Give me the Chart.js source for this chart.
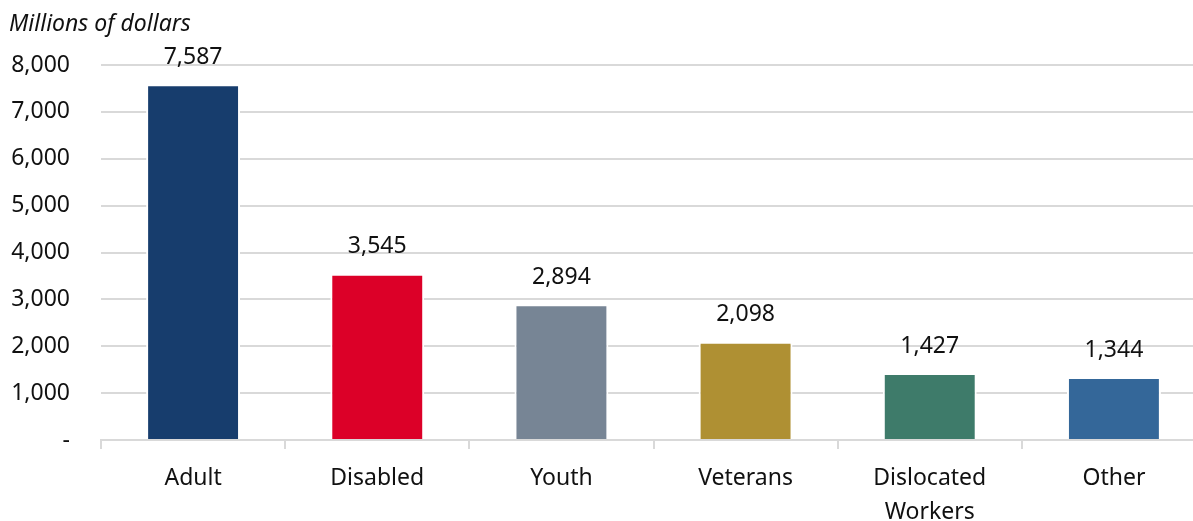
<!DOCTYPE html>
<html>
<head>
<meta charset="utf-8">
<script src="https://cdn.jsdelivr.net/npm/chart.js@4/dist/chart.umd.min.js"></script>
<style>
  html, body { margin: 0; padding: 0; background: #fff; overflow: hidden; }
  #wrap { width: 1206px; height: 521px; position: relative; }
</style>
</head>
<body>
<div id="wrap"><canvas id="chart"></canvas></div>
<script>
const categories = ['Adult', 'Disabled', 'Youth', 'Veterans', ['Dislocated', 'Workers'], 'Other'];
const amounts = [7587, 3545, 2894, 2098, 1427, 1344];
const barColors = ['#173d6d', '#dc0028', '#778595', '#af9033', '#3e7b6a', '#346799'];
const yTicks = [0, 1000, 2000, 3000, 4000, 5000, 6000, 7000, 8000];
const unitLabel = 'Millions of dollars';

const FONT = '"Source Sans Pro", "Noto Sans", sans-serif';
const fmt = v => v === 0 ? '-' : v.toLocaleString('en-US');

// value labels above bars + the units label top left
const extras = {
  id: 'extras',
  afterDatasetsDraw(chart) {
    const ctx = chart.ctx;
    ctx.save();
    ctx.fillStyle = '#111';
    ctx.font = '23px ' + FONT;
    ctx.textAlign = 'center';
    ctx.textBaseline = 'middle';
    chart.getDatasetMeta(0).data.forEach((bar, i) => {
      ctx.fillText(fmt(amounts[i]), bar.x, bar.y - 27);
    });
    ctx.font = 'italic 23px ' + FONT;
    ctx.textAlign = 'left';
    ctx.fillText(unitLabel, 9, 24);
    ctx.restore();
  }
};

new Chart(document.getElementById('chart'), {
  type: 'bar',
  data: {
    labels: categories,
    datasets: [{
      data: amounts,
      backgroundColor: barColors,
      borderColor: '#ffffff',
      borderWidth: 2,
      categoryPercentage: 1,
      barPercentage: 0.51
    }]
  },
  options: {
    responsive: true,
    maintainAspectRatio: false,
    animation: false,
    layout: { padding: { top: 65, right: 0, left: 0, bottom: 0 } },
    plugins: { legend: { display: false }, tooltip: { enabled: false } },
    scales: {
      x: {
        offset: true,
        grid: { offset: true, drawOnChartArea: false, color: '#d9d9d9', tickLength: 9, lineWidth: 2 },
        border: { color: '#d9d9d9', width: 2 },
        ticks: { color: '#111', font: { family: FONT, size: 23, lineHeight: 1.5 }, padding: 12, maxRotation: 0, autoSkip: false },
        afterFit(scale) { scale.height = 81; }
      },
      y: {
        min: 0,
        max: 8000,
        afterBuildTicks(scale) { scale.ticks = yTicks.map(v => ({ value: v })); },
        grid: { color: '#d9d9d9', lineWidth: 2, drawTicks: false },
        border: { display: false },
        ticks: { color: '#111', font: { family: FONT, size: 23 }, padding: 31, callback: v => fmt(v) },
        afterFit(scale) { scale.width = 101; }
      }
    }
  },
  plugins: [extras]
});
</script>
</body>
</html>
